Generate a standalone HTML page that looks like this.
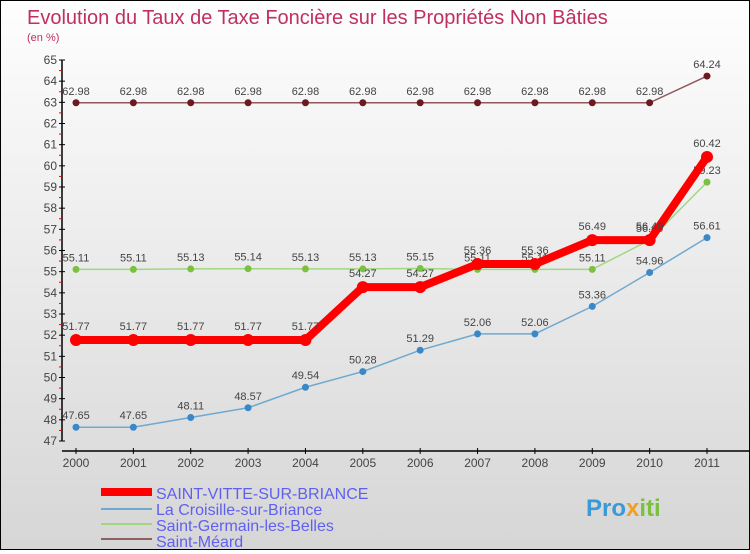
<!DOCTYPE html>
<html><head><meta charset="utf-8"><style>
body{margin:0}
#c{width:748px;height:548px;border:1px solid #000;background:linear-gradient(#fefefe,#d6d6d6);position:relative;font-family:"Liberation Sans",sans-serif}
text{font-family:"Liberation Sans",sans-serif}
</style></head><body>
<div id="c">
<svg id="s" width="748" height="548">
<text x="26" y="23" font-size="20" fill="#c0305f">Evolution du Taux de Taxe Foncière sur les Propriétés Non Bâties</text>
<text x="26" y="40" font-size="11" fill="#c0305f">(en %)</text>
<g id="axes"></g><g id="series"></g>
<g>
<rect x="100" y="487" width="51" height="8" fill="#f00"/>
<text x="155" y="498" font-size="16" fill="#6060f0">SAINT-VITTE-SUR-BRIANCE</text>
<rect x="100" y="507" width="51" height="2" fill="#6fa8d0"/>
<text x="155" y="514" font-size="16" fill="#6060f0">La Croisille-sur-Briance</text>
<rect x="100" y="522" width="51" height="2" fill="#a0d880"/>
<text x="155" y="530" font-size="16" fill="#6060f0">Saint-Germain-les-Belles</text>
<rect x="100" y="537" width="51" height="2" fill="#906060"/>
<text x="155" y="546" font-size="16" fill="#6060f0">Saint-Méard</text>
</g>
<text x="585" y="515" font-size="24" font-weight="bold" fill="#3a9ad8">Pro<tspan fill="#f0a020">x</tspan><tspan fill="#7cc040">iti</tspan></text>
</svg></div>
<script>
const years=[2000,2001,2002,2003,2004,2005,2006,2007,2008,2009,2010,2011];
const yTicks=[47,48,49,50,51,52,53,54,55,56,57,58,59,60,61,62,63,64,65];
const sVitte=[51.77,51.77,51.77,51.77,51.77,54.27,54.27,55.36,55.36,56.49,56.49,60.42];
const sCroisille=[47.65,47.65,48.11,48.57,49.54,50.28,51.29,52.06,52.06,53.36,54.96,56.61];
const sGermain=[55.11,55.11,55.13,55.14,55.13,55.13,55.15,55.11,55.11,55.11,56.49,59.23];
const sMeard=[62.98,62.98,62.98,62.98,62.98,62.98,62.98,62.98,62.98,62.98,62.98,64.24];
const NS='http://www.w3.org/2000/svg';
const X=i=>75+i*(706-75)/11;
const Y=v=>440-(v-47)*(440-59)/18;
function mk(t,a,p){const e=document.createElementNS(NS,t);for(const k in a)e.setAttribute(k,a[k]);p.appendChild(e);return e;}
const ax=document.getElementById('axes');
let l=mk('line',{x1:61,y1:Y(65),x2:61,y2:Y(47),stroke:'#000','stroke-width':1.5},ax);


l=mk('line',{x1:61,y1:450,x2:748,y2:450,stroke:'#000','stroke-width':1.5},ax);


yTicks.forEach(v=>{
 mk('line',{x1:58,y1:Y(v),x2:64,y2:Y(v),stroke:'#000'},ax);
 if(v<65)mk('line',{x1:58,y1:Y(v+0.5),x2:61,y2:Y(v+0.5),stroke:'#e00'},ax);
 const t=mk('text',{x:56,y:Y(v)+4,'font-size':12,fill:'#444','text-anchor':'end'},ax);
 t.textContent=v;
 
 
});
years.forEach((y,i)=>{
 mk('line',{x1:X(i),y1:447,x2:X(i),y2:453,stroke:'#000'},ax);
 const t=mk('text',{x:X(i),y:466,'font-size':12,fill:'#444','text-anchor':'middle'},ax);
 t.textContent=y;
 
 
});
const sg=document.getElementById('series');
function draw(vals,name,color,dot,w,r){
 const g=mk('g',{},sg);
 
 
 const p=mk('polyline',{points:vals.map((v,i)=>X(i)+','+Y(v)).join(' '),fill:'none',stroke:color,'stroke-width':w,'stroke-linejoin':'round'},g);
 
 
 vals.forEach((v,i)=>{
  const c=mk('circle',{cx:X(i),cy:Y(v),r:r,fill:dot},g);
  
  
  const t=mk('text',{x:X(i),y:Y(v)-8-(w>4?2:0),'font-size':11,fill:'#444','text-anchor':'middle'},g);
  t.textContent=v.toFixed(2);
  
  
 });
}
draw(sMeard,'saint-meard','#905858','#6a1a20',1.5,3.5);
draw(sCroisille,'la-croisille','#6fa8d0','#3a88c8',1.5,3.5);
draw(sGermain,'saint-germain','#a0d880','#7cc040',1.5,3.5);
draw(sVitte,'saint-vitte','#f00','#f00',8,6);
</script>
</body></html>
